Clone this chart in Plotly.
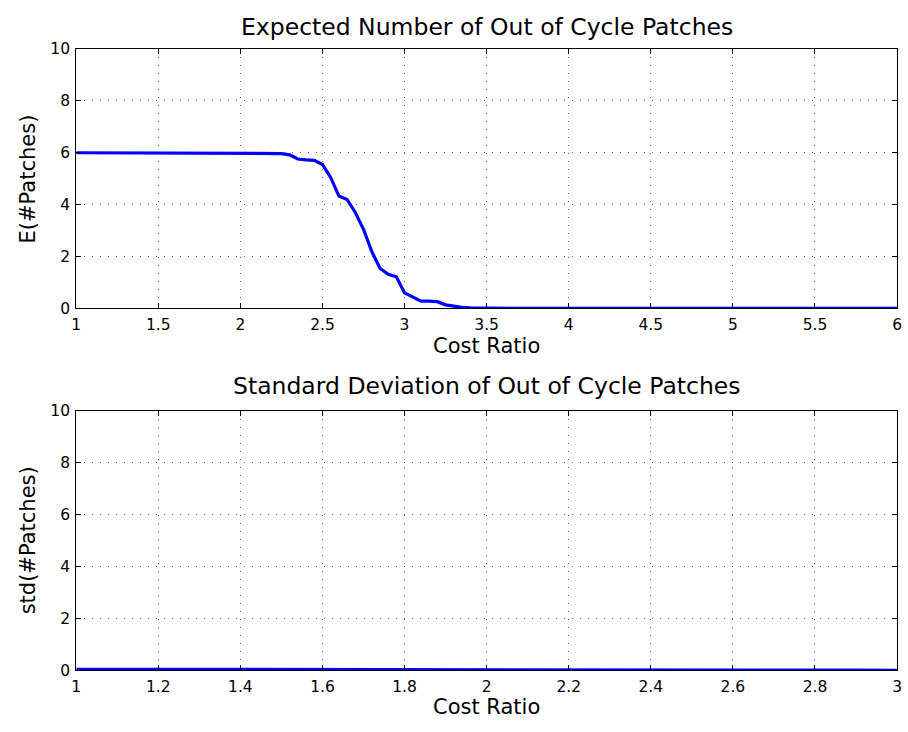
import plotly.graph_objects as go

# Expected number of out-of-cycle patches vs. cost ratio
cost_ratio_top = [round(1 + 0.05 * i, 2) for i in range(101)]
expected_patches = (
    [6.0] * 25
    + [5.97, 5.92, 5.76, 5.73, 5.71, 5.55, 5.05, 4.33, 4.20, 3.70,
       3.05, 2.20, 1.55, 1.32, 1.22, 0.60, 0.45, 0.28, 0.28, 0.26,
       0.14, 0.08, 0.04, 0.02, 0.01]
    + [0.0] * 51
)

# Standard deviation of out-of-cycle patches vs. cost ratio
cost_ratio_bottom = [round(1 + 0.05 * i, 2) for i in range(41)]
std_patches = (
    [0.04] * 33
    + [0.04, 0.03, 0.02, 0.015, 0.01, 0.005, 0.002, 0.0]
)

top_xticks = [1, 1.5, 2, 2.5, 3, 3.5, 4, 4.5, 5, 5.5, 6]
top_xlabels = ["1", "1.5", "2", "2.5", "3", "3.5", "4", "4.5", "5", "5.5", "6"]
bottom_xticks = [1, 1.2, 1.4, 1.6, 1.8, 2, 2.2, 2.4, 2.6, 2.8, 3]
bottom_xlabels = ["1", "1.2", "1.4", "1.6", "1.8", "2", "2.2", "2.4", "2.6", "2.8", "3"]
yticks = [0, 2, 4, 6, 8, 10]

FONT = "DejaVu Sans, Liberation Sans, Arial, sans-serif"
W, H = 908, 732


def py(px):
    """Convert a pixel row (from the top) to paper coordinates."""
    return 1 - px / H


x0, x1 = 72 / W, 902 / W
top_dom = [py(307), py(41)]
bot_dom = [py(678), py(412)]
xmid = (x0 + x1) / 2

fig = go.Figure()
fig.add_trace(go.Scatter(x=cost_ratio_top, y=expected_patches, mode="lines",
                         line=dict(color="#0000ff", width=3.2),
                         xaxis="x", yaxis="y", showlegend=False))
fig.add_trace(go.Scatter(x=cost_ratio_bottom, y=std_patches, mode="lines",
                         line=dict(color="#0000ff", width=3.2),
                         xaxis="x2", yaxis="y2", showlegend=False))

axis_common = dict(
    showline=True, linecolor="black", linewidth=1, mirror="ticks",
    ticks="inside", ticklen=5, tickcolor="black",
    showgrid=True, gridcolor="rgba(0,0,0,0.6)", gridwidth=1, griddash="1px,7px",
    zeroline=False, tickfont=dict(family=FONT, size=15.5, color="black"),
)

fig.update_layout(
    width=W, height=H,
    margin=dict(l=0, r=0, t=0, b=0),
    paper_bgcolor="white", plot_bgcolor="white",
    font=dict(family=FONT, color="black"),
    xaxis=dict(axis_common, domain=[x0, x1], anchor="y", range=[1, 6],
               tickvals=top_xticks, ticktext=top_xlabels, ticklabelstandoff=2),
    yaxis=dict(axis_common, domain=top_dom, anchor="x", range=[0, 10],
               tickvals=yticks, ticklabelstandoff=2),
    xaxis2=dict(axis_common, domain=[x0, x1], anchor="y2", range=[1, 3],
                tickvals=bottom_xticks, ticktext=bottom_xlabels, ticklabelstandoff=2),
    yaxis2=dict(axis_common, domain=bot_dom, anchor="x2", range=[0, 10],
                tickvals=yticks, ticklabelstandoff=2),
    annotations=[
        dict(text="Expected Number of Out of Cycle Patches", x=xmid, y=py(18),
             xref="paper", yref="paper", showarrow=False,
             font=dict(size=23.5), xanchor="center", yanchor="middle"),
        dict(text="Cost Ratio", x=xmid, y=py(345),
             xref="paper", yref="paper", showarrow=False,
             font=dict(size=21), xanchor="center", yanchor="middle"),
        dict(text="E(#Patches)", x=23 / W, y=(top_dom[0] + top_dom[1]) / 2,
             xref="paper", yref="paper", showarrow=False, textangle=-90,
             font=dict(size=21), xanchor="center", yanchor="middle"),
        dict(text="Standard Deviation of Out of Cycle Patches", x=xmid, y=py(387),
             xref="paper", yref="paper", showarrow=False,
             font=dict(size=23.5), xanchor="center", yanchor="middle"),
        dict(text="Cost Ratio", x=xmid, y=py(716),
             xref="paper", yref="paper", showarrow=False,
             font=dict(size=21), xanchor="center", yanchor="middle"),
        dict(text="std(#Patches)", x=23 / W, y=(bot_dom[0] + bot_dom[1]) / 2,
             xref="paper", yref="paper", showarrow=False, textangle=-90,
             font=dict(size=21), xanchor="center", yanchor="middle"),
    ],
)

fig.write_html("out.html")
